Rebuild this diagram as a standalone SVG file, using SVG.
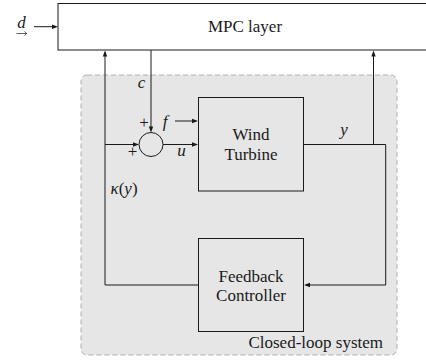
<svg xmlns="http://www.w3.org/2000/svg" width="426" height="360" viewBox="0 0 426 360">
<defs>
<path id="ah" d="M0,0 L-6,-2.2 L-6,2.2 Z" fill="#1a1a1a"/>
</defs>
<rect width="426" height="360" fill="#ffffff"/>
<g id="closed-loop">
<rect x="81" y="75" width="316" height="280" rx="6" fill="#e6e6e6" stroke="#b0b0b0" stroke-width="1" stroke-dasharray="5,3"/>
<text x="383" y="348" text-anchor="end" font-family="'Times New Roman', 'Liberation Serif', serif" font-size="17" fill="#1a1a1a">Closed-loop system</text>
</g>
<g id="mpc">
<rect x="58" y="3.5" width="368.5" height="46.5" fill="#ffffff" stroke="#1a1a1a" stroke-width="1"/>
<text x="245" y="32" text-anchor="middle" font-family="'Times New Roman', 'Liberation Serif', serif" font-size="17" fill="#1a1a1a">MPC layer</text>
</g>
<g id="turbine">
<rect x="198.5" y="97.5" width="105" height="93.5" fill="none" stroke="#1a1a1a" stroke-width="1"/>
<text x="251" y="140" text-anchor="middle" font-family="'Times New Roman', 'Liberation Serif', serif" font-size="17" fill="#1a1a1a">Wind</text>
<text x="251" y="160" text-anchor="middle" font-family="'Times New Roman', 'Liberation Serif', serif" font-size="17" fill="#1a1a1a">Turbine</text>
</g>
<g id="controller">
<rect x="198.5" y="238.5" width="105" height="93" fill="none" stroke="#1a1a1a" stroke-width="1"/>
<text x="251" y="282" text-anchor="middle" font-family="'Times New Roman', 'Liberation Serif', serif" font-size="17" fill="#1a1a1a">Feedback</text>
<text x="251" y="301" text-anchor="middle" font-family="'Times New Roman', 'Liberation Serif', serif" font-size="17" fill="#1a1a1a">Controller</text>
</g>
<g id="sum">
<circle cx="151" cy="144.5" r="12" fill="none" stroke="#1a1a1a" stroke-width="1"/>
<text x="144" y="128" text-anchor="middle" font-family="'Times New Roman', 'Liberation Serif', serif" font-size="17" fill="#1a1a1a">+</text>
<text x="132.5" y="156.5" text-anchor="middle" font-family="'Times New Roman', 'Liberation Serif', serif" font-size="17" fill="#1a1a1a">+</text>
</g>
<g id="connectors">
<g fill="none" stroke="#1a1a1a" stroke-width="1">
<path d="M34,26.7 H56"/>
<path d="M151,50 V130.5"/>
<path d="M175,121 H196"/>
<path d="M105,144.5 H137"/>
<path d="M163,144.5 H196"/>
<path d="M303.5,144.5 H385.7 V285 H306"/>
<path d="M373.5,144.5 V52.5"/>
<path d="M198.5,285 H105 V52.5"/>
<path d="M16.5,33.5 H26.5 M24.5,31.5 L26.8,33.5 L24.5,35.5" stroke-width="0.7"/>
</g>
<use href="#ah" transform="translate(58,26.7)"/>
<use href="#ah" transform="translate(151,132.5) rotate(90)"/>
<use href="#ah" transform="translate(198,121)"/>
<use href="#ah" transform="translate(139,144.5)"/>
<use href="#ah" transform="translate(198,144.5)"/>
<use href="#ah" transform="translate(304,285) rotate(180)"/>
<use href="#ah" transform="translate(373.5,50.5) rotate(-90)"/>
<use href="#ah" transform="translate(105,50.5) rotate(-90)"/>
</g>
<g id="labels">
<text x="21.5" y="28" text-anchor="middle" font-family="'Times New Roman', 'Liberation Serif', serif" font-size="17" font-style="italic" fill="#1a1a1a">d</text>
<text x="141.5" y="88" text-anchor="middle" font-family="'Times New Roman', 'Liberation Serif', serif" font-size="17" font-style="italic" fill="#1a1a1a">c</text>
<text x="165" y="126.5" text-anchor="middle" font-family="'Times New Roman', 'Liberation Serif', serif" font-size="17" font-style="italic" fill="#1a1a1a">f</text>
<text x="181.5" y="156" text-anchor="middle" font-family="'Times New Roman', 'Liberation Serif', serif" font-size="17" font-style="italic" fill="#1a1a1a">u</text>
<text x="344" y="135" text-anchor="middle" font-family="'Times New Roman', 'Liberation Serif', serif" font-size="17" font-style="italic" fill="#1a1a1a">y</text>
<text x="110.5" y="193.5" font-family="'Times New Roman', 'Liberation Serif', serif" font-size="17" font-style="italic" fill="#1a1a1a">κ<tspan font-style="normal">(</tspan>y<tspan font-style="normal">)</tspan></text>
</g>
</svg>
